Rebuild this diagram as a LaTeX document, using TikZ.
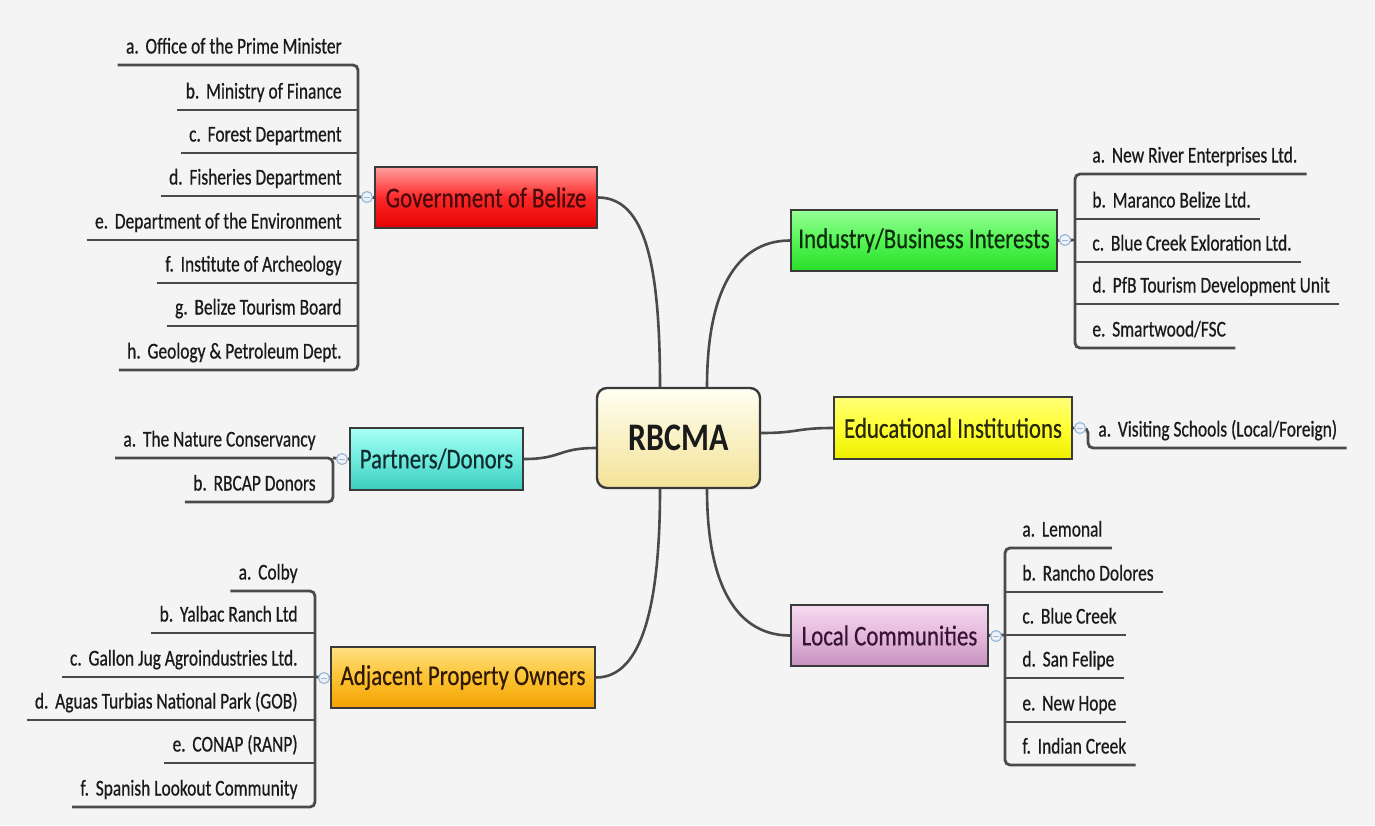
\documentclass[tikz,border=0pt]{standalone}
\usepackage{fontspec}
\setmainfont{Carlito}[FakeStretch=0.77,FakeBold=0.6]
\newfontfamily\topicfont{Carlito}[FakeStretch=0.8,FakeBold=0.5]
\newfontfamily\rootfont{Carlito}[FakeStretch=0.82]
\usetikzlibrary{calc}
\definecolor{bg}{HTML}{F4F4F4}
\definecolor{lin}{HTML}{4A4A4A}
\definecolor{bord}{HTML}{3A3A3A}
\definecolor{ink}{HTML}{1A1A1A}
\definecolor{foldd}{HTML}{9DB8D6}
\definecolor{foldf}{HTML}{EDF3F9}
\newcommand\lsp{\hskip0.3em}
\newcommand\LeafL[4]{%
  \node[leaf, anchor=base east] (#1) at (#3,#4-11.5) {#2};
  \path (#1.base west) ++(-8,11.5) coordinate (#1-u);}
\newcommand\LeafR[4]{%
  \node[leaf, anchor=base west] (#1) at (#3,#4-11.5) {#2};
  \path (#1.base east) ++(9,11.5) coordinate (#1-u);}
\tikzset{
  topic/.style={draw=bord, line width=1pt, inner sep=0pt, text=ink,
    font=\topicfont\fontsize{14.3}{16}\selectfont},
  leaf/.style={inner sep=0pt, text=ink, font=\fontsize{11.3}{13}\selectfont},
  uline/.style={draw=lin, line width=1.4pt, rounded corners=2.5pt},
  conn/.style={draw=lin, line width=1.3pt},
  fold/.style={circle, draw=foldd, fill=foldf, line width=0.6pt, minimum size=5.5pt, inner sep=0pt,
    path picture={\draw[foldd, line width=0.5pt]
      ([xshift=-1.5pt]path picture bounding box.center) -- ([xshift=1.5pt]path picture bounding box.center);}}
}
\begin{document}
\begin{tikzpicture}[x=0.5pt,y=-0.5pt]
\fill[bg] (0,0) rectangle (1375,825);
\useasboundingbox (0,0) rectangle (1375,825);

% ---------- root ----------
\node[draw=bord, line width=1.2pt, rounded corners=5pt, top color=white!60!yellow!12, bottom color={rgb,255:red,244;green,226;blue,150},
  minimum width=81.5pt, minimum height=50pt, inner sep=0pt, text=ink,
  font=\rootfont\bfseries\fontsize{19.5}{22}\selectfont] (root) at (678.5,438) {RBCMA};

% ---------- topics ----------
\node[topic, top color={rgb,255:red,255;green,160;blue,160}, bottom color={rgb,255:red,230;green,0;blue,0}, middle color={rgb,255:red,252;green,40;blue,40},
  minimum width=111pt, minimum height=30.5pt, text={rgb,255:red,70;green,10;blue,10}] (gov) at (486,197.5) {Government of Belize};
\node[topic, top color={rgb,255:red,150;green,255;blue,150}, bottom color={rgb,255:red,40;green,220;blue,40}, middle color={rgb,255:red,85;green,245;blue,85},
  minimum width=133pt, minimum height=30.5pt, text={rgb,255:red,15;green,45;blue,15}] (ind) at (924,240.5) {Industry/Business Interests};
\node[topic, top color={rgb,255:red,170;green,255;blue,245}, bottom color={rgb,255:red,60;green,205;blue,190}, middle color={rgb,255:red,110;green,235;blue,222},
  minimum width=86.5pt, minimum height=31pt, text={rgb,255:red,15;green,45;blue,45}] (par) at (436.5,459) {Partners/Donors};
\node[topic, top color={rgb,255:red,255;green,255;blue,120}, bottom color={rgb,255:red,238;green,238;blue,0}, middle color={rgb,255:red,255;green,255;blue,50},
  minimum width=119pt, minimum height=31pt, text={rgb,255:red,40;green,40;blue,10}] (edu) at (953,428) {Educational Institutions};
\node[topic, top color={rgb,255:red,255;green,225;blue,130}, bottom color={rgb,255:red,245;green,160;blue,0}, middle color={rgb,255:red,252;green,195;blue,50},
  minimum width=132pt, minimum height=30.5pt, text={rgb,255:red,50;green,25;blue,5}] (adj) at (463,677.5) {Adjacent Property Owners};
\node[topic, top color={rgb,255:red,246;green,218;blue,240}, bottom color={rgb,255:red,200;green,145;blue,192}, middle color={rgb,255:red,228;green,185;blue,220},
  minimum width=98.5pt, minimum height=30.5pt, text={rgb,255:red,55;green,20;blue,50}] (loc) at (889.5,635.5) {Local Communities};

% ---------- root connectors ----------
\path (root.north) ++(-18.5,0) coordinate (rN1);
\path (root.north) ++(28.5,0) coordinate (rN2);
\path (root.south) ++(-18.5,0) coordinate (rS1);
\path (root.south) ++(28.5,0) coordinate (rS2);
\path (root.west) ++(0,10) coordinate (rW);
\path (root.east) ++(0,-5) coordinate (rE);
\draw[conn] (gov.east) .. controls +(48,0) and +(0,-120) .. (rN1);
\draw[conn] (rN2) .. controls +(0,-105) and +(-48,0) .. (ind.west);
\draw[conn] (par.east) .. controls +(38,0) and +(-38,0) .. (rW);
\draw[conn] (rE) .. controls +(38,0) and +(-38,0) .. (edu.west);
\draw[conn] (adj.east) .. controls +(48,0) and +(0,110) .. (rS1);
\draw[conn] (rS2) .. controls +(0,105) and +(-48,0) .. (loc.west);

% ---------- Government of Belize ----------
\LeafL{ga}{a.\lsp Office of the Prime Minister}{342}{65}
\LeafL{gb}{b.\lsp Ministry of Finance}{342}{110}
\LeafL{gc}{c.\lsp Forest Department}{342}{153}
\LeafL{gd}{d.\lsp Fisheries Department}{342}{196}
\LeafL{ge}{e.\lsp Department of the Environment}{342}{240}
\LeafL{gf}{f.\lsp Institute of Archeology}{342}{283}
\LeafL{gg}{g.\lsp Belize Tourism Board}{342}{326}
\LeafL{gh}{h.\lsp Geology \& Petroleum Dept.}{342}{370}
\draw[uline] (ga-u) -- (358,65) -- (358,370) -- (gh-u);
\foreach \n/\y in {gb/110,gc/153,gd/196,ge/240,gf/283,gg/326}
  \draw[uline] (\n-u) -- (358,\y);
\coordinate (gbr) at (358,197);
\draw[uline] (gov.west) -- (gbr);
\node[fold] (fgov) at (367,197) {};

% ---------- Industry ----------
\LeafR{ia}{a.\lsp New River Enterprises Ltd.}{1092}{174}
\LeafR{ib}{b.\lsp Maranco Belize Ltd.}{1092}{219}
\LeafR{ic}{c.\lsp Blue Creek Exloration Ltd.}{1092}{262}
\LeafR{id}{d.\lsp PfB Tourism Development Unit}{1092}{304}
\LeafR{ie}{e.\lsp Smartwood/FSC}{1092}{348}
\draw[uline] (ia-u) -- (1075,174) -- (1075,348) -- (ie-u);
\foreach \n/\y in {ib/219,ic/262,id/304}
  \draw[uline] (1075,\y) -- (\n-u);
\coordinate (ibr) at (1075,240);
\draw[uline] (ind.east) -- (ibr);
\node[fold] (find) at (1065,240) {};

% ---------- Educational ----------
\LeafR{ea}{a.\lsp Visiting Schools (Local/Foreign)}{1098}{448}
\draw[uline] (edu.east) -- (1088,428) -- (1088,448) -- (ea-u);
\node[fold] (fedu) at (1080,428) {};

% ---------- Partners ----------
\LeafL{pa}{a.\lsp The Nature Conservancy}{316}{458}
\LeafL{pb}{b.\lsp RBCAP Donors}{316}{502}
\draw[uline] (pa-u) -- (333,458) -- (333,502) -- (pb-u);
\coordinate (pbr) at (333,458);
\draw[uline] (par.west) -- (pbr);
\node[fold] (fpar) at (342,459) {};

% ---------- Adjacent ----------
\LeafL{aa}{a.\lsp Colby}{298}{591}
\LeafL{ab}{b.\lsp Yalbac Ranch Ltd}{298}{633}
\LeafL{ac}{c.\lsp Gallon Jug Agroindustries Ltd.}{298}{677}
\LeafL{ad}{d.\lsp Aguas Turbias National Park (GOB)}{298}{720}
\LeafL{ae}{e.\lsp CONAP (RANP)}{298}{763}
\LeafL{af}{f.\lsp Spanish Lookout Community}{298}{807}
\draw[uline] (aa-u) -- (315,591) -- (315,807) -- (af-u);
\foreach \n/\y in {ab/633,ac/677,ad/720,ae/763}
  \draw[uline] (\n-u) -- (315,\y);
\coordinate (abr) at (315,677);
\draw[uline] (adj.west) -- (abr);
\node[fold] (fadj) at (324,678) {};

% ---------- Local ----------
\LeafR{la}{a.\lsp Lemonal}{1022}{548}
\LeafR{lb}{b.\lsp Rancho Dolores}{1022}{592}
\LeafR{lc}{c.\lsp Blue Creek}{1022}{635}
\LeafR{ld}{d.\lsp San Felipe}{1022}{678}
\LeafR{le}{e.\lsp New Hope}{1022}{722}
\LeafR{lf}{f.\lsp Indian Creek}{1022}{765}
\draw[uline] (la-u) -- (1005,548) -- (1005,765) -- (lf-u);
\foreach \n/\y in {lb/592,lc/635,ld/678,le/722}
  \draw[uline] (1005,\y) -- (\n-u);
\coordinate (lbr) at (1005,635);
\draw[uline] (loc.east) -- (lbr);
\node[fold] (floc) at (996,636) {};
\end{tikzpicture}
\end{document}
